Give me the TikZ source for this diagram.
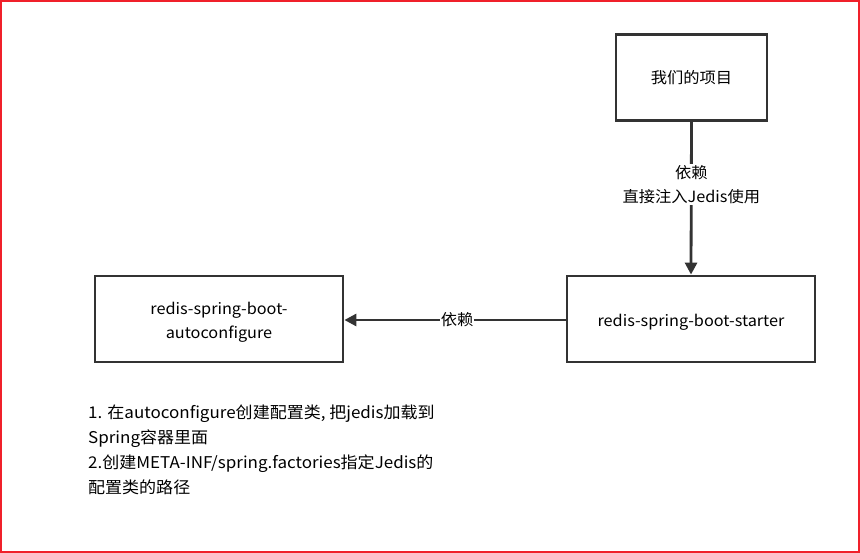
\documentclass[tikz,border=0pt]{standalone}
\usepackage{fontspec}
\setmainfont[FakeStretch=1.05]{Noto Sans CJK SC}
\usetikzlibrary{arrows.meta}
\definecolor{linegray}{HTML}{333333}
\definecolor{framered}{HTML}{F0202A}
\tikzset{
  box/.style={draw=linegray, line width=2.8pt, minimum width=#1, minimum height=86pt, inner sep=0pt, align=center, font=\fontsize{15.5}{24}\selectfont},
  conn/.style={draw=linegray, line width=2.8pt, -{Triangle[length=12pt,width=12pt]}},
  lbl/.style={fill=white, inner sep=1pt, align=center, font=\fontsize{15.5}{24}\selectfont},
}
\begin{document}
\begin{tikzpicture}[x=1pt,y=-1pt]
\useasboundingbox (0,0) rectangle (860,553);
\draw[framered, line width=2pt] (1,1) rectangle (859,552);
\node[box=151pt] (proj) at (691.5,77.5) {我们的项目};
\node[box=248pt] (starter) at (691,319) {};
\node[align=center, inner sep=0pt, font=\fontsize{15.5}{24}\selectfont] (startertext) at (691,322) {redis-spring-boot-starter};
\node[box=248pt] (auto) at (219,319) {};
\node[align=center, inner sep=0pt, font=\fontsize{15.5}{24}\selectfont] (autotext) at (219,322) {redis-spring-boot-\\autoconfigure};
\draw[conn] (proj.south) -- node[lbl, pos=0.41] {依赖\\直接注入Jedis使用} (starter.north);
\draw[conn] ([yshift=-1pt]starter.west) -- node[lbl, pos=0.49] {依赖} ([yshift=-1pt]auto.east);
\node[anchor=north west, align=left, inner sep=0pt, font=\fontsize{16.2}{25}\selectfont] (notes) at (88,405) {1. 在autoconfigure创建配置类, 把jedis加载到\\Spring容器里面\\2.创建META-INF/spring.factories指定Jedis的\\配置类的路径};
\end{tikzpicture}
\end{document}
